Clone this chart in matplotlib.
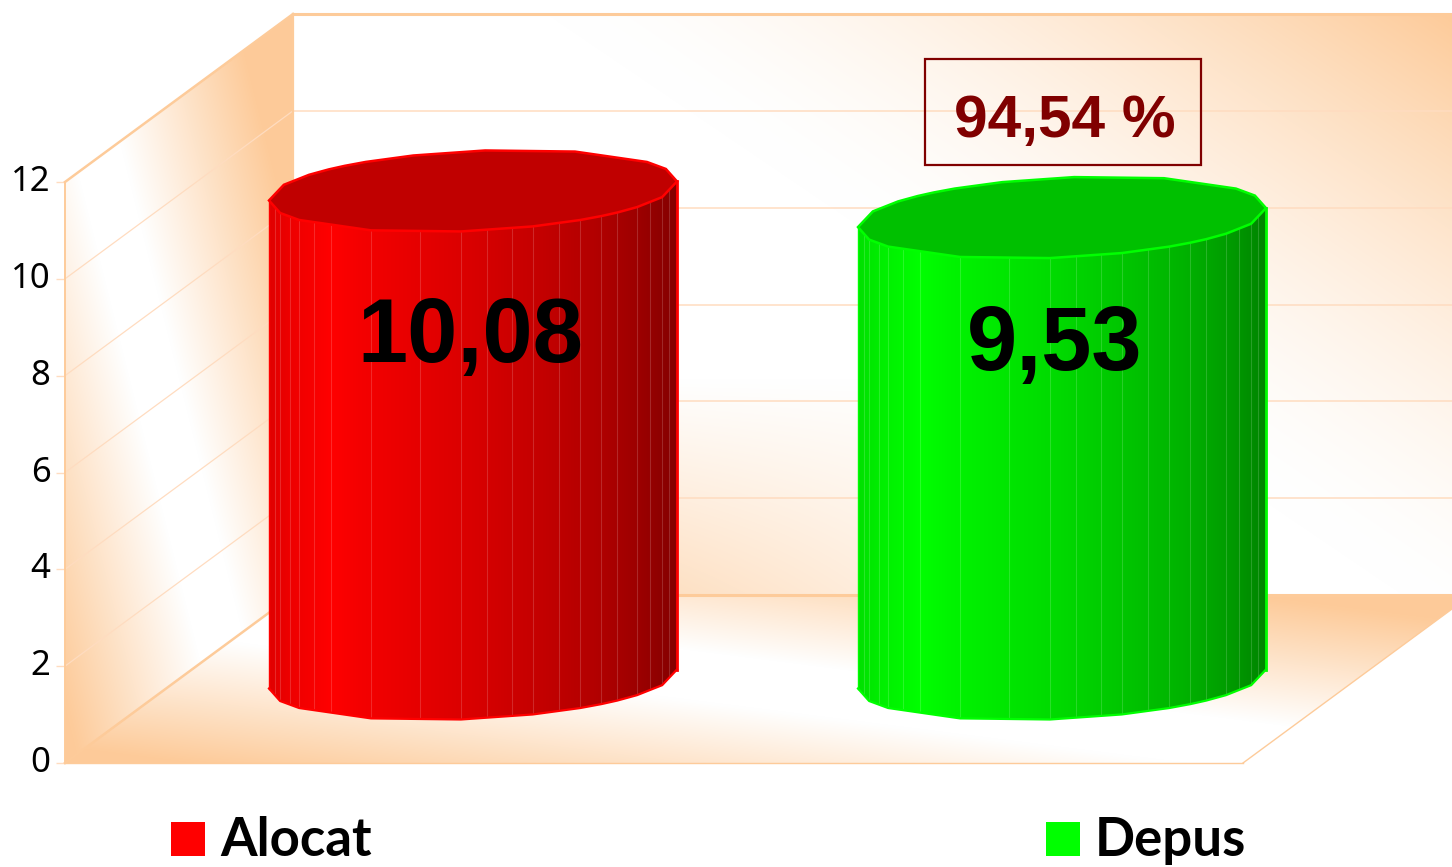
import matplotlib
matplotlib.use('Agg')
import matplotlib.pyplot as plt
import numpy as np
from matplotlib.patches import Polygon, Rectangle
from matplotlib.transforms import ScaledTranslation

W, H = 1452, 867

categories = ['Alocat', 'Depus']
values = [10.08, 9.53]
value_labels = ['10,08', '9,53']
ratio_label = '94,54 %'
y_ticks = [0, 2, 4, 6, 8, 10, 12]

ORANGE = np.array([253, 203, 154]) / 255.0
GRID = '#ffdcc0'
EDGE = '#fdcb9a'

# pixel layout of the front plane
LEFT, RIGHT, TOP, BOTTOM = 65, 1243, 182, 763
CAT0, CAT1 = 473, 1062
PX_CAT = CAT1 - CAT0
PX_VAL = (BOTTOM - TOP) / 12.0
DEPTH_X = 228 / PX_CAT
DEPTH_Y = 168 / PX_VAL


def x_of(px):
    return (px - CAT0) / PX_CAT


def y_of(py):
    return (BOTTOM - py) / PX_VAL


plt.rcParams['font.family'] = ['Noto Sans', 'DejaVu Sans']
fig = plt.figure(figsize=(W / 100, H / 100), dpi=100)
ax = fig.add_axes([LEFT / W, 1 - BOTTOM / H, (RIGHT - LEFT) / W, (BOTTOM - TOP) / H])
ax.patch.set_visible(False)
for s in ax.spines.values():
    s.set_visible(False)


def gradient_patch(t, corners, zorder=1):
    # t is a 0-1 field over the whole picture (pixel grid), clipped to corners
    rgb = 1 - t[..., None] * (1 - ORANGE)
    im = ax.imshow(rgb, extent=(x_of(0), x_of(W), y_of(H), y_of(0)), aspect='auto',
                   origin='upper', zorder=zorder, interpolation='bilinear')
    poly = Polygon(corners, closed=True, transform=ax.transData, fc='none', ec='none')
    ax.add_patch(poly)
    poly.set_clip_on(False)
    im.set_clip_path(poly)
    im.set_clip_box(fig.bbox)


xx, yy = np.meshgrid(np.arange(W) + 0.5, np.arange(H) + 0.5)

# back wall: glow at top right, weaker one low down on the left
f = 0.00133 * xx - 0.00196 * yy - 0.9
upper = (np.clip(f, -0.2, 1) + 0.2) / 1.2
upper = upper ** 1.6
lower = np.clip((yy - 380) / 210.0, 0, None) * np.clip(0.35 + (860 - xx) * 0.00125, 0, None)
back_t = np.clip(np.maximum(upper, lower), 0, 1)
x_a, x_b = x_of(LEFT), x_of(RIGHT)
back = [(x_a + DEPTH_X, DEPTH_Y), (x_b + DEPTH_X, DEPTH_Y),
        (x_b + DEPTH_X, 12 + DEPTH_Y), (x_a + DEPTH_X, 12 + DEPTH_Y)]
gradient_patch(back_t, back)

# left wall
d = np.abs(xx - (110 + (yy - 200) * 0.25))
left_t = np.clip((d - 25) / 145.0, 0, 1)
left_wall = [(x_a, 0), (x_a + DEPTH_X, DEPTH_Y), (x_a + DEPTH_X, 12 + DEPTH_Y), (x_a, 12)]
gradient_patch(left_t, left_wall)

# floor
d = np.abs(yy - (615 + (xx - 215) * 0.127))
floor_t = np.clip((d - 25) / 125.0, 0, 1)
floor = [(x_a, 0), (x_b, 0), (x_b + DEPTH_X, DEPTH_Y), (x_a + DEPTH_X, DEPTH_Y)]
gradient_patch(floor_t, floor)

# grid lines
for v in y_ticks[1:-1]:
    ax.plot([x_a + DEPTH_X, x_b + DEPTH_X], [v + DEPTH_Y, v + DEPTH_Y], color=GRID, lw=1.1,
            zorder=2, clip_on=False)
    ax.plot([x_a, x_a + DEPTH_X], [v, v + DEPTH_Y], color=GRID, lw=0.9, zorder=2, clip_on=False)

# frame
frame = [
    ([x_a + DEPTH_X, x_b + DEPTH_X], [12 + DEPTH_Y, 12 + DEPTH_Y], 2.2),
    ([x_a + DEPTH_X, x_a + DEPTH_X], [DEPTH_Y, 12 + DEPTH_Y], 1.6),
    ([x_a, x_a + DEPTH_X], [12, 12 + DEPTH_Y], 1.8),
    ([x_a, x_a + DEPTH_X], [0, DEPTH_Y], 1.8),
    ([x_a + DEPTH_X, x_b + DEPTH_X], [DEPTH_Y, DEPTH_Y], 2.2),
    ([x_a, x_a], [0, 12], 1.4),
    ([x_a, x_b], [0, 0], 1.0),
    ([x_b, x_b + DEPTH_X], [0, DEPTH_Y], 1.0),
]
for fx, fy, lw in frame:
    ax.plot(fx, fy, color=EDGE, lw=lw, zorder=3, clip_on=False)

# cylinder facets, angle around the rim (front half, left to right)
FACET_DEG = np.array([194, 199, 206, 211.5, 219, 226, 240, 255, 266.6, 274, 281, 287, 295,
                      301.7, 309, 315, 323.5, 330, 338, 344], dtype=float)
RIM_DEG = np.array([180, 199, 211.5, 240, 266.6, 287, 301.7, 309, 315, 323.5, 338, 360], dtype=float)
UX, UY = 204 / PX_CAT, 9.5 / PX_VAL
VY = 40 / PX_VAL
BASE = y_of(679)

shade_pos = [0, 0.05, 0.15, 0.22, 0.5, 0.8, 0.9, 1.0]
shade_val = [0.88, 0.93, 1.0, 0.96, 0.85, 0.70, 0.62, 0.52]
bright = [(1, 0, 0), (0, 1, 0)]
lid = ['#c00000', '#00c000']


def rim(cat, y0, deg):
    t = np.radians(deg)
    return cat + UX * np.cos(t), y0 + UY * np.cos(t) + VY * np.sin(t)


for i, v in enumerate(values):
    top = BASE + v
    bx, by = rim(i, BASE, RIM_DEG)
    tx, ty = rim(i, top, RIM_DEG)
    body = list(zip(bx, by)) + list(zip(tx[::-1], ty[::-1]))
    poly = Polygon(body, closed=True, fc='none', ec='none', zorder=4)
    ax.add_patch(poly)
    poly.set_clip_on(False)

    shade = np.interp(np.linspace(0, 1, 512), shade_pos, shade_val)
    strip = np.array(bright[i])[None, None, :] * shade[None, :, None]
    im = ax.imshow(strip, extent=(i - UX, i + UX, BASE - 2, top + 2), aspect='auto', zorder=4,
                   interpolation='bilinear')
    im.set_clip_path(poly)
    im.set_clip_box(fig.bbox)

    # facet seams
    fbx, fby = rim(i, BASE, FACET_DEG)
    for k in range(len(fbx)):
        ax.plot([fbx[k], fbx[k]], [np.interp(fbx[k], bx, by), np.interp(fbx[k], tx, ty)],
                color='white', alpha=0.16, lw=0.8, zorder=5, clip_on=False)

    ax.plot(bx, by, color=bright[i], lw=1.6, zorder=6, clip_on=False)
    ax.plot([bx[0], bx[0]], [by[0], ty[0]], color=bright[i], lw=1.0, zorder=6, clip_on=False)
    ax.plot([bx[-1], bx[-1]], [by[-1], ty[-1]], color=bright[i], lw=2.0, zorder=6, clip_on=False)

    lx, ly = rim(i, top, np.concatenate([RIM_DEG, RIM_DEG[1:-1] - 180]))
    ax.add_patch(Polygon(list(zip(lx, ly)), closed=True, fc=lid[i], ec=bright[i], lw=1.8,
                         zorder=7, clip_on=False))

# value labels
ax.text(x_of(470), y_of(362), value_labels[0], fontsize=65, fontweight='bold', color='black',
        family='Liberation Sans', ha='center', va='baseline', zorder=8)
ax.text(x_of(1055), y_of(370), value_labels[1], fontsize=65, fontweight='bold', color='black',
        family='Liberation Sans', ha='center', va='baseline', zorder=8)

# ratio box
ax.add_patch(Rectangle((x_of(925), y_of(165)), 276 / PX_CAT, 106 / PX_VAL, fc='none', ec='#800000',
                       lw=1.6, zorder=8, clip_on=False))
ax.text(x_of(1065), y_of(137), ratio_label, fontsize=43.5, fontweight='bold', color='#800000',
        family='Liberation Sans', ha='center', va='baseline', zorder=9)

# legend
legend_x = [171, 1046]
for i, name in enumerate(categories):
    ax.add_patch(Rectangle((x_of(legend_x[i]), y_of(856)), 34 / PX_CAT, 34 / PX_VAL, fc=bright[i],
                           ec='none', zorder=8, clip_on=False))
    ax.text(x_of(legend_x[i] + 49), y_of(856), name, fontsize=38, fontweight='bold', color='black',
            family='Lato', ha='left', va='baseline', zorder=8)

ax.set_xlim(x_of(LEFT), x_of(RIGHT))
ax.set_ylim(0, 12)
ax.set_xticks([])
ax.set_yticks(y_ticks)
ax.tick_params(axis='y', length=6.5, width=1.0, color=GRID, labelsize=25, pad=4, labelcolor='black')
# tick labels sit a little above their ticks
shift = ScaledTranslation(0, 4 / 100, fig.dpi_scale_trans)
for lab in ax.get_yticklabels():
    lab.set_transform(lab.get_transform() + shift)

fig.savefig('out.png', dpi=100)
